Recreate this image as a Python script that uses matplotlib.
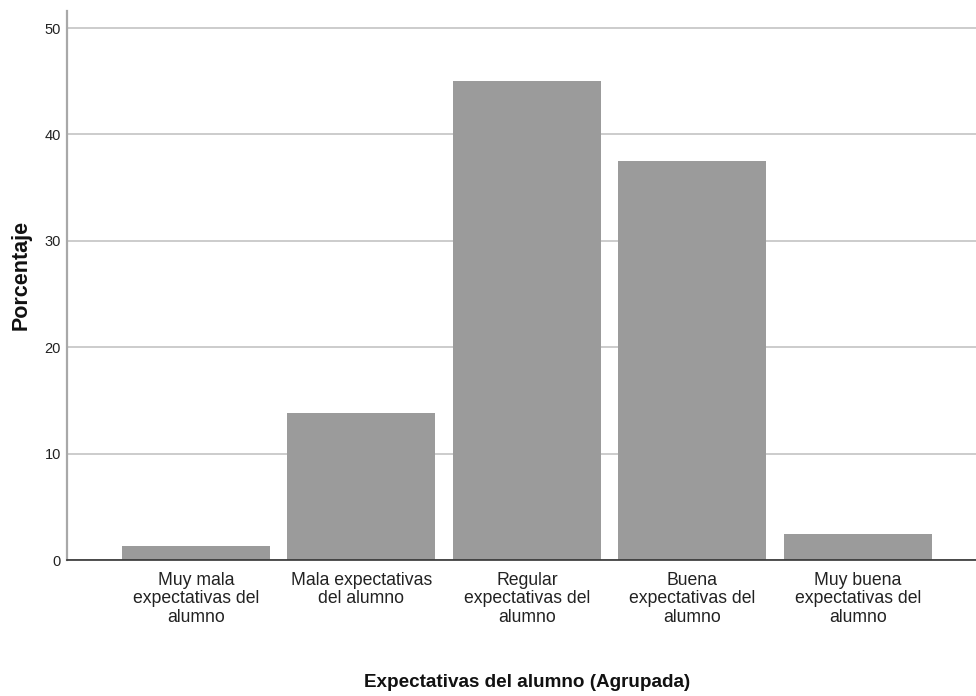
import matplotlib
matplotlib.use('Agg')
import matplotlib.pyplot as plt
import numpy as np

categorias = ['Muy mala\nexpectativas del\nalumno',
              'Mala expectativas\ndel alumno',
              'Regular\nexpectativas del\nalumno',
              'Buena\nexpectativas del\nalumno',
              'Muy buena\nexpectativas del\nalumno']
porcentajes = [1.3, 13.8, 45.0, 37.5, 2.5]
yticks = [0, 10, 20, 30, 40, 50]

fuente = ['Liberation Sans', 'DejaVu Sans']


def plot():
    fig = plt.figure(figsize=(9.76, 6.96), dpi=100)
    ax = fig.add_axes([67 / 976, 1 - 560.3 / 696, 909 / 976, 549.3 / 696])

    x = np.arange(len(categorias))
    ax.bar(x, porcentajes, width=0.894, color='#9b9b9b', zorder=3)

    ax.set_xlim(-0.779, 4.713)
    ax.set_ylim(0, 51.6)
    ax.set_yticks(yticks)
    ax.set_yticklabels([str(t) for t in yticks], family=fuente, fontsize=10.5,
                       color='#222222')
    ax.set_xticks(x)
    ax.set_xticklabels(categorias, family=fuente, fontsize=12.7,
                       linespacing=1.1, color='#222222')
    ax.tick_params(axis='both', length=0)
    ax.tick_params(axis='y', pad=4.5)
    ax.tick_params(axis='x', pad=8.5)

    ax.yaxis.grid(True, color='#c4c4c4', linewidth=1.2, zorder=0)
    ax.set_axisbelow(True)
    for s in ['top', 'right']:
        ax.spines[s].set_visible(False)
    ax.spines['left'].set_color('#a8a8a8')
    ax.spines['left'].set_linewidth(1.6)
    ax.spines['bottom'].set_color('#333333')
    ax.spines['bottom'].set_linewidth(1.2)
    ax.spines['bottom'].set_zorder(4)

    ax.set_xlabel('Expectativas del alumno (Agrupada)', family=fuente,
                  fontweight='bold', fontsize=13.6, color='#111111')
    ax.xaxis.set_label_coords(0.506, -0.207)
    ax.set_ylabel('Porcentaje', family=fuente, fontweight='bold',
                  fontsize=15.5, color='#111111')
    ax.yaxis.set_label_coords(-0.039, 0.52)

    fig.savefig('out.png', dpi=100)


if __name__ == '__main__':
    plot()
